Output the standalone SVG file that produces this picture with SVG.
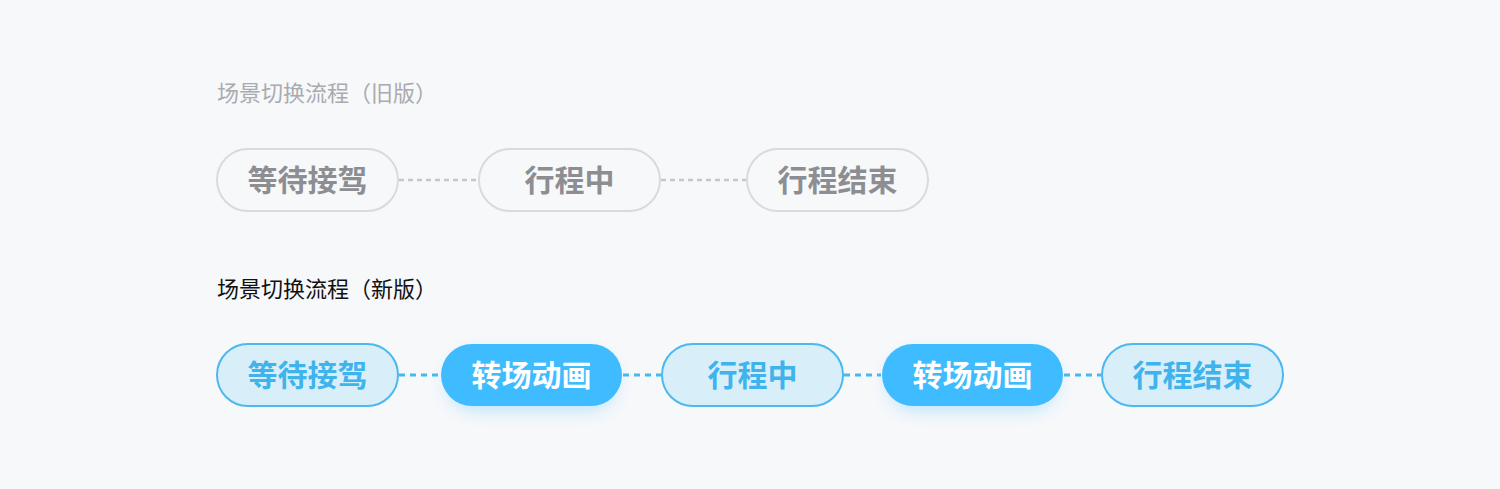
<svg xmlns="http://www.w3.org/2000/svg" width="1500" height="489" viewBox="0 0 1500 489">
<defs>
<style>
.title{font-family:"Noto Sans CJK SC","Noto Sans",sans-serif;font-size:22px}
.lbl{font-family:"Noto Sans CJK SC","Noto Sans",sans-serif;font-size:30px;font-weight:700;text-anchor:middle;dominant-baseline:central}
.old rect{fill:#f7f8fa;stroke:#d9dadc;stroke-width:2}
.old text{fill:#8c8e92}
.nw rect{fill:#d8effa;stroke:#4bb8ee;stroke-width:2}
.nw text{fill:#3fb3ee}
.fill rect{fill:#3fbcff}
.fill text{fill:#ffffff}
.dg{stroke:#c5c7ca;stroke-width:2.5;stroke-dasharray:5 4;fill:none}
.db{stroke:#45b9f0;stroke-width:3;stroke-dasharray:6 5;fill:none}
</style>
<filter id="sh" x="-30%" y="-60%" width="160%" height="240%">
<feGaussianBlur in="SourceGraphic" stdDeviation="9"/>
</filter>
</defs>
<rect width="1500" height="489" fill="#f7f8fa"/>
<text class="title" x="217" y="101" fill="#a9abaf">场景切换流程（旧版）</text>
<text class="title" x="217" y="297" fill="#111111">场景切换流程（新版）</text>
<g id="connectors">
<line class="dg" x1="399" y1="180" x2="478" y2="180"/>
<line class="dg" x1="661" y1="180" x2="746" y2="180"/>
<line class="db" x1="399" y1="375" x2="440" y2="375"/>
<line class="db" x1="623" y1="375" x2="661" y2="375"/>
<line class="db" x1="844" y1="375" x2="881" y2="375"/>
<line class="db" x1="1064" y1="375" x2="1101" y2="375"/>
</g>
<g id="old1" class="old"><rect x="217" y="149" width="181" height="62" rx="31"/><text class="lbl" x="307.5" y="178">等待接驾</text></g>
<g id="old2" class="old"><rect x="479" y="149" width="181" height="62" rx="31"/><text class="lbl" x="569.5" y="178">行程中</text></g>
<g id="old3" class="old"><rect x="747" y="149" width="181" height="62" rx="31"/><text class="lbl" x="837.5" y="178">行程结束</text></g>
<g id="new1" class="nw"><rect x="217" y="344" width="181" height="62" rx="31"/><text class="lbl" x="307.5" y="373">等待接驾</text></g>
<g id="new2" class="fill"><rect x="447" y="354" width="169" height="56" rx="28" fill="#3fbcff" opacity="0.35" filter="url(#sh)"/><rect x="441" y="344" width="181" height="62" rx="31"/><text class="lbl" x="531.5" y="373">转场动画</text></g>
<g id="new3" class="nw"><rect x="662" y="344" width="181" height="62" rx="31"/><text class="lbl" x="752.5" y="373">行程中</text></g>
<g id="new4" class="fill"><rect x="888" y="354" width="169" height="56" rx="28" fill="#3fbcff" opacity="0.35" filter="url(#sh)"/><rect x="882" y="344" width="181" height="62" rx="31"/><text class="lbl" x="972.5" y="373">转场动画</text></g>
<g id="new5" class="nw"><rect x="1102" y="344" width="181" height="62" rx="31"/><text class="lbl" x="1192.5" y="373">行程结束</text></g>
</svg>
